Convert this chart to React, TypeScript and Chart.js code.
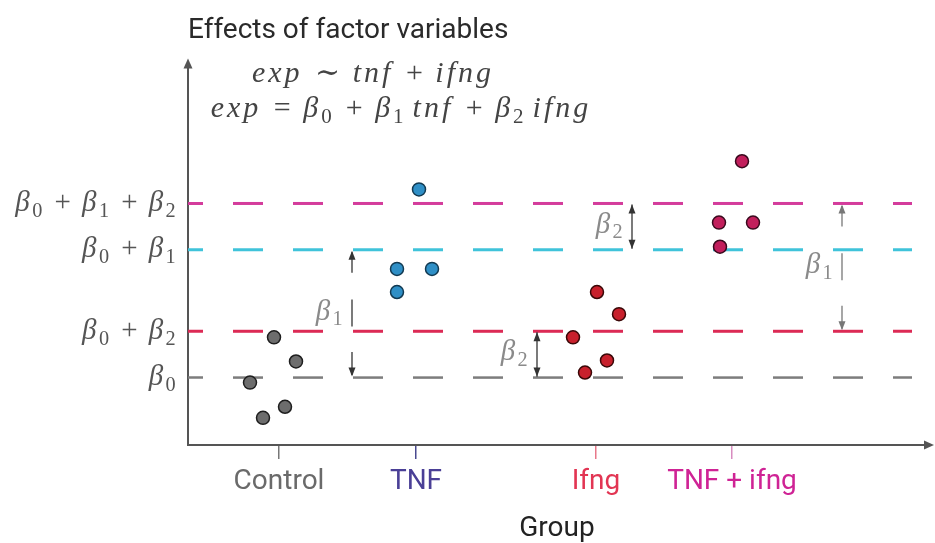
import { useEffect, useRef } from "react";
import { Chart, registerables } from "chart.js";

Chart.register(...registerables);

// ---------- data ----------
const groupNames = ["Control", "TNF", "Ifng", "TNF + ifng"];
const groupTickX = [9.1, 22.8, 40.8, 54.4];

const controlX = [6.2, 8.6, 10.8, 9.7, 7.5];
const controlY = [6.2, 10.7, 8.3, 3.8, 2.7];
const tnfX = [23.1, 20.9, 24.4, 20.9];
const tnfY = [25.4, 17.5, 17.5, 15.2];
const ifngX = [40.9, 43.1, 38.5, 41.9, 39.7];
const ifngY = [15.2, 13.0, 10.7, 8.4, 7.2];
const bothX = [55.4, 53.1, 56.5, 53.2];
const bothY = [28.2, 22.1, 22.1, 19.7];

const levelLabels = ["β_0", "β_0+β_2", "β_0+β_1", "β_0+β_1+β_2"];
const levelValues = [6.7, 11.3, 19.4, 24.0];
const levelLineX = [0, 72.4];

const arrowX = [16.4, 34.9, 44.4, 65.4];
const arrowFrom = [0, 0, 2, 1];
const arrowTo = [2, 1, 3, 3];
const arrowLabels = ["β_1", "β_2", "β_2", "β_1"];

const titleText = "Effects of factor variables";
const xAxisTitle = "Group";
const equationLines = ["exp∼tnf+ifng", "exp=β_0+β_1 tnf+β_2 ifng"];
const equationAnchorX = [18.5, 21.3];
const equationAnchorY = [36.1, 32.6];

// ---------- styles ----------
const SANS = 'Roboto, "Noto Sans", sans-serif';
const SERIF = '"Liberation Serif", "DejaVu Serif", serif';
const levelColors = ["#7d7d7d", "#dc2a55", "#3fc3da", "#d43c9c"];
const levelWidths = [2.5, 3, 3, 3];
const groupFill = ["#6d6d6d", "#2f8fc6", "#c8202c", "#c21f5c"];
const groupStroke = ["#1e1e1e", "#123a52", "#3a0808", "#3a0a1e"];
const groupLabelColors = ["#6a6a6a", "#4a3f96", "#e23553", "#cf2395"];
const groupTickColors = ["#777777", "#4a4a90", "#e8788a", "#d88cc0"];
const arrowColors = ["#333333", "#333333", "#333333", "#777777"];
const arrowBroken = [true, false, false, true];

type Tok = { k: "v" | "s" | "o" | "w"; c: string };

function parseMath(src: string): Tok[] {
  const out: Tok[] = [];
  for (let i = 0; i < src.length; i++) {
    const c = src[i];
    if (c === "_") {
      out.push({ k: "s", c: src[i + 1] });
      i++;
    } else if (c === " ") out.push({ k: "w", c });
    else if ("+=∼".includes(c)) out.push({ k: "o", c });
    else out.push({ k: "v", c });
  }
  return out;
}

type MathOpts = { size: number; opSp: number; varSp: number; color: string; align: "left" | "center" | "right" };

function mathRun(ctx: CanvasRenderingContext2D, toks: Tok[], x0: number, base: number, o: MathOpts, draw: boolean) {
  let x = x0;
  for (const t of toks) {
    if (t.k === "v") {
      ctx.font = `italic ${o.size}px ${SERIF}`;
      if (draw) ctx.fillText(t.c, x, base);
      x += ctx.measureText(t.c).width + o.varSp;
    } else if (t.k === "s") {
      ctx.font = `${o.size * 0.7}px ${SERIF}`;
      if (draw) ctx.fillText(t.c, x, base + o.size * 0.2);
      x += ctx.measureText(t.c).width + o.varSp * 0.5;
    } else if (t.k === "o") {
      ctx.font = `${o.size}px ${SERIF}`;
      x += o.opSp;
      if (draw) ctx.fillText(t.c, x, base);
      x += ctx.measureText(t.c).width + o.opSp;
    } else {
      x += o.size * 0.25;
    }
  }
  return x - x0;
}

function drawMath(ctx: CanvasRenderingContext2D, src: string, x: number, base: number, o: MathOpts) {
  const toks = parseMath(src);
  ctx.save();
  ctx.textAlign = "left";
  ctx.textBaseline = "alphabetic";
  ctx.fillStyle = o.color;
  const w = mathRun(ctx, toks, 0, base, o, false);
  const start = o.align === "left" ? x : o.align === "center" ? x - w / 2 : x - w;
  mathRun(ctx, toks, start, base, o, true);
  ctx.restore();
}

function head(ctx: CanvasRenderingContext2D, x: number, tip: number, dir: number) {
  ctx.beginPath();
  ctx.moveTo(x, tip);
  ctx.lineTo(x - 3.5, tip - dir * 9);
  ctx.lineTo(x + 3.5, tip - dir * 9);
  ctx.closePath();
  ctx.fill();
}

const decorPlugin = {
  id: "decor",
  afterDatasetsDraw(chart: any) {
    const ctx: CanvasRenderingContext2D = chart.ctx;
    const xs = chart.scales.x;
    const ys = chart.scales.y;
    const area = chart.chartArea;
    ctx.save();
    // axis arrowheads
    ctx.fillStyle = "#555";
    ctx.beginPath();
    ctx.moveTo(area.left, area.top - 8);
    ctx.lineTo(area.left - 4.5, area.top + 2);
    ctx.lineTo(area.left + 4.5, area.top + 2);
    ctx.closePath();
    ctx.fill();
    ctx.beginPath();
    ctx.moveTo(area.right + 8, area.bottom);
    ctx.lineTo(area.right - 2, area.bottom - 4.5);
    ctx.lineTo(area.right - 2, area.bottom + 4.5);
    ctx.closePath();
    ctx.fill();

    // level labels on the y axis
    levelLabels.forEach((lab, i) => {
      const y = ys.getPixelForValue(levelValues[i]);
      drawMath(ctx, lab, area.left - 11, y + 7.5, { size: 29, opSp: 11, varSp: 2.5, color: "#555", align: "right" });
    });

    // difference arrows
    arrowX.forEach((av, i) => {
      const x = xs.getPixelForValue(av);
      const yTop = ys.getPixelForValue(levelValues[arrowTo[i]]);
      const yBot = ys.getPixelForValue(levelValues[arrowFrom[i]]);
      const L = yBot - yTop;
      ctx.strokeStyle = arrowColors[i];
      ctx.fillStyle = arrowColors[i];
      ctx.lineWidth = 1.3;
      const segs = arrowBroken[i] ? [[0.02, 0.18], [0.39, 0.6], [0.8, 0.98]] : [[0.02, 0.98]];
      segs.forEach(([a, b]) => {
        ctx.beginPath();
        ctx.moveTo(x, yTop + a * L);
        ctx.lineTo(x, yTop + b * L);
        ctx.stroke();
      });
      head(ctx, x, yTop + 1, -1);
      head(ctx, x, yBot - 1, 1);
      drawMath(ctx, arrowLabels[i], x - 8, (yTop + yBot) / 2 + 6, { size: 29, opSp: 11, varSp: 2.5, color: "#8a8a8a", align: "right" });
    });

    // equations
    equationLines.forEach((eq, i) => {
      drawMath(ctx, eq, xs.getPixelForValue(equationAnchorX[i]), ys.getPixelForValue(equationAnchorY[i]), {
        size: 30,
        opSp: 12.5,
        varSp: 3,
        color: "#444",
        align: "center",
      });
    });
    ctx.restore();
  },
};

function pts(xv: number[], yv: number[]) {
  return xv.map((x, i) => ({ x, y: yv[i] }));
}

export default function App() {
  const ref = useRef<HTMLCanvasElement | null>(null);
  useEffect(() => {
    document.body.style.margin = "0";
    if (!ref.current) return;
    const lineSets = levelValues.map((v, i) => ({
      label: levelLabels[i],
      data: levelLineX.map((x) => ({ x, y: v })),
      showLine: true,
      pointRadius: 0,
      borderColor: levelColors[i],
      borderWidth: levelWidths[i],
      borderDash: [30, 30],
      borderDashOffset: 15,
      borderCapStyle: "butt",
      order: 2,
    }));
    const groups = [pts(controlX, controlY), pts(tnfX, tnfY), pts(ifngX, ifngY), pts(bothX, bothY)];
    const pointSets = groups.map((d, i) => ({
      label: groupNames[i],
      data: d,
      showLine: false,
      pointRadius: 6.5,
      pointBorderWidth: 1.5,
      pointBackgroundColor: groupFill[i],
      pointBorderColor: groupStroke[i],
      order: 0,
    }));
    const chart = new Chart(ref.current, {
      type: "scatter",
      data: { datasets: [...lineSets, ...pointSets] as any },
      plugins: [decorPlugin],
      options: {
        animation: false,
        responsive: true,
        maintainAspectRatio: false,
        events: [],
        layout: { padding: { left: 188, right: 9, top: 8, bottom: 0 } },
        plugins: {
          legend: { display: false },
          tooltip: { enabled: false },
          title: {
            display: true,
            text: titleText,
            align: "start",
            color: "#2a2a2a",
            font: { family: SANS, size: 28, weight: "normal" as any },
            padding: { top: 6, bottom: 19 },
          },
        },
        scales: {
          x: {
            type: "linear",
            min: 0,
            max: 73.8,
            afterBuildTicks: (s: any) => {
              s.ticks = groupTickX.map((v) => ({ value: v }));
            },
            ticks: {
              autoSkip: false,
              maxRotation: 0,
              minRotation: 0,
              padding: 6,
              font: { family: SANS, size: 28 },
              color: (c: any) => groupLabelColors[c.index] || "#666",
              callback: (_v: any, i: number) => groupNames[i],
            },
            grid: {
              display: true,
              drawOnChartArea: false,
              drawTicks: true,
              tickLength: 14,
              lineWidth: 1.5,
              color: (c: any) => groupTickColors[c.index] || "#777",
            },
            border: { display: true, color: "#555", width: 2 },
            title: {
              display: true,
              text: xAxisTitle,
              color: "#222",
              font: { family: SANS, size: 28, lineHeight: 1 },
              padding: { top: 10.4, bottom: 0 },
            },
          },
          y: {
            type: "linear",
            min: 0,
            max: 37.6,
            ticks: { display: false },
            grid: { display: false, drawTicks: false, tickLength: 0 },
            border: { display: true, color: "#555", width: 2 },
          },
        },
      } as any,
    });
    return () => chart.destroy();
  }, []);
  return (
    <div style={{ position: "relative", width: 935, height: 543 }}>
      <canvas ref={ref} />
    </div>
  );
}
